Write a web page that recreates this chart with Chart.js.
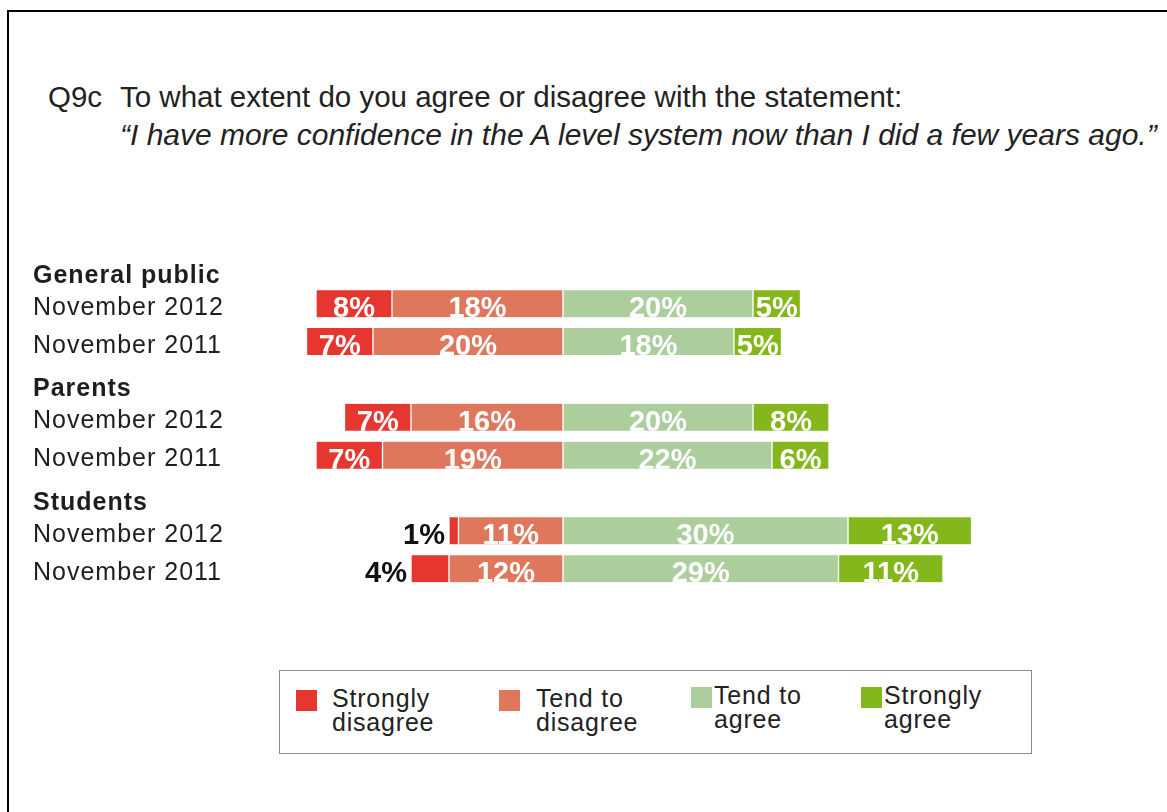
<!DOCTYPE html>
<html>
<head>
<meta charset="utf-8">
<title>Confidence in the A level system</title>
<script src="https://cdn.jsdelivr.net/npm/chart.js@4.4.1/dist/chart.umd.min.js"></script>
<style>
  html, body { margin: 0; padding: 0; background: #fff; }
  body {
    width: 1167px; height: 812px; position: relative; overflow: hidden;
    font-family: 'Liberation Sans', Arial, Helvetica, sans-serif; color: #222;
  }
  #frame {
    position: absolute; left: 7px; top: 10px; width: 1300px; height: 900px;
    border-top: 2px solid #000; border-left: 2px solid #000;
  }
  .q { position: absolute; font-size: 29.5px; line-height: 30px; white-space: nowrap; color: #222; }
  .q.it { font-style: italic; font-size: 30px; }
  #wrap { position: absolute; left: 0; top: 0; width: 1167px; height: 812px; }
  #legend {
    position: absolute; left: 279px; top: 670px; width: 751px; height: 82px;
    border: 1px solid #8c8c8c; background: #fff;
  }
  .sw { position: absolute; width: 21px; height: 21px; }
  .lt {
    position: absolute; font-size: 25px; line-height: 24px; letter-spacing: 0.8px;
    white-space: pre-line; color: #222;
  }
</style>
</head>
<body>
<div id="frame"></div>
<div class="q" style="left:48px; top:82px;">Q9c</div>
<div class="q" style="left:120px; top:82px;">To what extent do you agree or disagree with the statement:</div>
<div class="q it" style="left:120px; top:120px;">“I have more confidence in the A level system now than I did a few years ago.”</div>
<div id="wrap"><canvas id="chart"></canvas></div>
<div id="legend"></div>
<script>
// Survey groups and the two waves asked in each
const groups = ['General public', 'Parents', 'Students'];
const waves = ['November 2012', 'November 2011'];

// Percentages per row, in order: GP 2012, GP 2011, Parents 2012, Parents 2011, Students 2012, Students 2011
const stronglyDisagree = [8, 7, 7, 7, 1, 4];
const tendToDisagree   = [18, 20, 16, 19, 11, 12];
const tendToAgree      = [20, 18, 20, 22, 30, 29];
const stronglyAgree    = [5, 5, 8, 6, 13, 11];

const seriesNames  = ['Strongly\ndisagree', 'Tend to\ndisagree', 'Tend to\nagree', 'Strongly\nagree'];
const seriesColors = ['#e5372f', '#df775c', '#abce9c', '#84b71b'];

const FONT = "'Liberation Sans', Arial, Helvetica, sans-serif";

// Axis rows: a bold group header followed by its two waves
const rowLabels = [];
const headerRows = new Set();
groups.forEach(g => {
  headerRows.add(rowLabels.length);
  rowLabels.push(g);
  waves.forEach(w => rowLabels.push(w));
});

// Spread six row values onto the nine axis rows (headers stay empty); sign sets the side
function spread(values, sign) {
  const out = [];
  let k = 0;
  rowLabels.forEach((_, i) => {
    if (headerRows.has(i)) out.push(null);
    else out.push(sign * values[k++]);
  });
  return out;
}

// Disagree sides stack leftwards from zero, so the inner segment comes first
const datasets = [
  { label: seriesNames[1], data: spread(tendToDisagree, -1), backgroundColor: seriesColors[1] },
  { label: seriesNames[0], data: spread(stronglyDisagree, -1), backgroundColor: seriesColors[0] },
  { label: seriesNames[2], data: spread(tendToAgree, 1), backgroundColor: seriesColors[2] },
  { label: seriesNames[3], data: spread(stronglyAgree, 1), backgroundColor: seriesColors[3] }
].map(d => Object.assign(d, {
  borderColor: '#ffffff',
  borderWidth: { left: 1, right: 1, top: 0, bottom: 0 },
  borderSkipped: false,
  barThickness: 27
}));

// Slightly spaced lettering for the row captions on the canvas
const spacing = {
  id: 'spacing',
  beforeDraw(chart) { chart.ctx.letterSpacing = '1px'; },
  afterDraw(chart) { chart.ctx.letterSpacing = '0px'; }
};

// Percentage labels: white inside each segment (clipped to it), dark outside for slim ones
const segmentLabels = {
  id: 'segmentLabels',
  afterDatasetsDraw(chart) {
    const ctx = chart.ctx;
    chart.data.datasets.forEach((ds, di) => {
      const meta = chart.getDatasetMeta(di);
      meta.data.forEach((bar, i) => {
        const v = ds.data[i];
        if (v === null || v === undefined) return;
        const pct = Math.abs(v);
        const p = bar.getProps(['x', 'y', 'base', 'height'], true);
        const left = Math.min(p.x, p.base), right = Math.max(p.x, p.base);
        const top = p.y - p.height / 2, bottom = p.y + p.height / 2;
        const text = pct + '%';
        ctx.save();
        ctx.letterSpacing = '0px';
        ctx.font = 'bold 29px ' + FONT;
        ctx.textBaseline = 'alphabetic';
        if (pct < 5) {
          ctx.fillStyle = '#111';
          ctx.textAlign = 'right';
          ctx.fillText(text, left - 4, bottom);
        } else {
          ctx.beginPath();
          ctx.rect(left, top, right - left, bottom - top);
          ctx.clip();
          ctx.fillStyle = '#ffffff';
          ctx.textAlign = 'center';
          ctx.fillText(text, (left + right) / 2, bottom);
        }
        ctx.restore();
      });
    });
  }
};

const chart = new Chart(document.getElementById('chart'), {
  type: 'bar',
  data: { labels: rowLabels, datasets },
  options: {
    indexAxis: 'y',
    responsive: true,
    maintainAspectRatio: false,
    animation: false,
    events: [],
    layout: { padding: { left: 33, right: 129, top: 247, bottom: 224.4 } },
    plugins: { legend: { display: false }, tooltip: { enabled: false }, title: { display: false } },
    scales: {
      x: { type: 'linear', stacked: true, min: -30, max: 50, display: false },
      y: {
        stacked: true,
        grid: { display: false },
        border: { display: false },
        ticks: {
          autoSkip: false,
          crossAlign: 'far',
          padding: 0,
          labelOffset: 4,
          color: '#1e1e1e',
          font: c => headerRows.has(c.index)
            ? { family: FONT, size: 25, weight: 'bold', lineHeight: 0.48 }
            : { family: FONT, size: 25, weight: 'normal', lineHeight: 1.2 },
          callback: (value, i) => headerRows.has(i) ? ['', rowLabels[i]] : rowLabels[i]
        },
        afterFit: s => { s.width = 245; }
      }
    }
  },
  plugins: [spacing, segmentLabels]
});

// Legend box below the chart, one entry per response
const legendSlots = [
  { box: [16, 19], text: [52, 15] },
  { box: [219, 19], text: [256, 15] },
  { box: [411, 16], text: [434, 12] },
  { box: [581, 16], text: [604, 12] }
];
const legend = document.getElementById('legend');
seriesNames.forEach((name, i) => {
  const sw = document.createElement('div');
  sw.className = 'sw';
  sw.style.left = legendSlots[i].box[0] + 'px';
  sw.style.top = legendSlots[i].box[1] + 'px';
  sw.style.background = seriesColors[i];
  const tx = document.createElement('div');
  tx.className = 'lt';
  tx.style.left = legendSlots[i].text[0] + 'px';
  tx.style.top = legendSlots[i].text[1] + 'px';
  tx.textContent = name;
  legend.appendChild(sw);
  legend.appendChild(tx);
});
</script>
</body>
</html>
